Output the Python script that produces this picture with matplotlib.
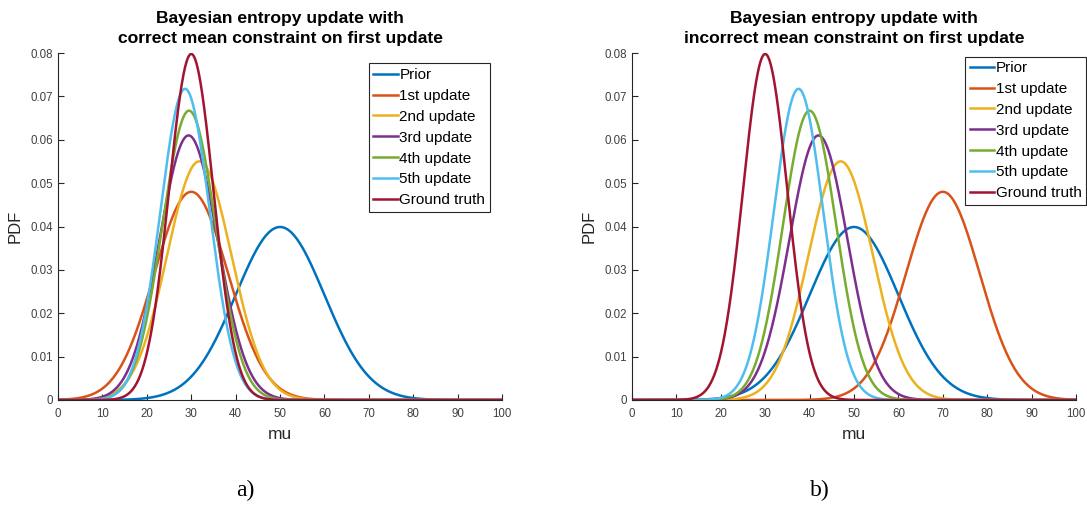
import matplotlib
import matplotlib.pyplot as plt
import matplotlib.ticker as ticker
import numpy as np

matplotlib.use("Agg")

plt.rcParams["font.family"] = ["Liberation Sans", "DejaVu Sans"]

labels = ["Prior", "1st update", "2nd update", "3rd update",
          "4th update", "5th update", "Ground truth"]
colors = ["#0072BD", "#D95319", "#EDB120", "#7E2F8E",
          "#77AC30", "#4DBEEE", "#A2142F"]

# gaussian mean / std for each curve
means_a = [50, 30, 31.8, 29.4, 29.5, 28.6, 30]
stds_a = [10.0, 8.31, 7.25, 6.54, 5.98, 5.56, 5.0]
means_b = [50, 70, 47, 42, 40, 37.5, 30]
stds_b = [10.0, 8.31, 7.25, 6.54, 5.98, 5.56, 5.0]

titles = ["Bayesian entropy update with\ncorrect mean constraint on first update",
          "Bayesian entropy update with\nincorrect mean constraint on first update"]
panel_tags = ["a)", "b)"]

mu = np.linspace(0, 100, 1001)


def _pdf(x, m, s):
    return np.exp(-0.5 * ((x - m) / s) ** 2) / (s * np.sqrt(2 * np.pi))


def _draw(ax, means, stds, title, legend_at):
    for m, s, c, lab in zip(means, stds, colors, labels):
        ax.plot(mu, _pdf(mu, m, s), color=c, lw=1.8, label=lab)
    ax.set_xlim(0, 100)
    ax.set_ylim(0, 0.08)
    ax.set_xticks(np.arange(0, 101, 10))
    ax.set_yticks(np.arange(0, 0.0801, 0.01))
    ax.yaxis.set_major_formatter(ticker.FuncFormatter(lambda v, pos: "%g" % round(v, 3)))
    for side in ("top", "right"):
        ax.spines[side].set_visible(False)
    for side in ("left", "bottom"):
        ax.spines[side].set_color("#262626")
        ax.spines[side].set_linewidth(0.8)
    ax.tick_params(direction="in", length=4, width=0.8, colors="#262626",
                   labelsize=8.3, labelcolor="#404040")
    ax.tick_params(axis="x", pad=6)
    ax.set_xlabel("mu", fontsize=12.5, color="#262626", labelpad=5)
    ax.set_ylabel("PDF", fontsize=12, color="#262626", labelpad=6)
    ax.set_title(title, fontsize=12.6, fontweight="bold", color="#000000", pad=7,
                 linespacing=1.45)
    leg = ax.legend(loc="upper left", bbox_to_anchor=legend_at, fontsize=11,
                    handlelength=1.6, handletextpad=0.1, labelspacing=0.45,
                    borderpad=0.3, borderaxespad=0, fancybox=False, framealpha=1)
    leg.get_frame().set_edgecolor("#262626")
    leg.get_frame().set_linewidth(0.8)
    for t in leg.get_texts():
        t.set_color("#000000")


fig = plt.figure(figsize=(10.87, 5.08), dpi=100)
ax_a = fig.add_axes([0.0534, 0.2126, 0.4085, 0.683])
ax_b = fig.add_axes([0.5814, 0.2126, 0.4085, 0.683])

_draw(ax_a, means_a, stds_a, titles[0], (0.70, 0.97))
_draw(ax_b, means_b, stds_b, titles[1], (0.75, 0.99))

fig.text(245 / 1087, 1 - 490 / 508, panel_tags[0], ha="center", va="center",
         fontsize=17, family="Liberation Serif")
fig.text(820 / 1087, 1 - 490 / 508, panel_tags[1], ha="center", va="center",
         fontsize=17, family="Liberation Serif")

fig.savefig("out.png", dpi=100)
plt.close(fig)
